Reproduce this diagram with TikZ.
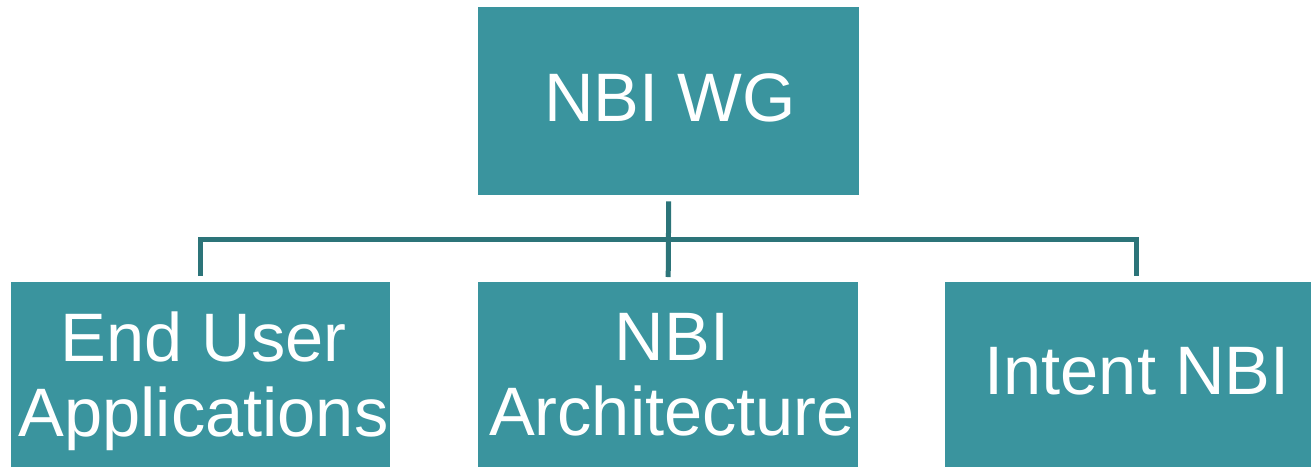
\documentclass[tikz,border=0pt]{standalone}
\usepackage{fontspec}
\setmainfont{Liberation Sans}
\definecolor{boxteal}{HTML}{3A949E}
\definecolor{lineteal}{HTML}{2C7479}
\begin{document}
\begin{tikzpicture}[x=1pt,y=-1pt,
  unit/.style={draw=none,fill=boxteal,rectangle,inner sep=0pt,anchor=north west},
  caption/.style={text=white,align=center,inner sep=0pt,
    font=\fontsize{68.6}{75}\selectfont},
  conn/.style={draw=lineteal,line width=5pt}]
\useasboundingbox (0,0) rectangle (1311,467);

% boxes
\node[unit,minimum width=381pt,minimum height=188pt] (wg)   at (478,7)   {};
\node[unit,minimum width=379pt,minimum height=185pt] (eua)  at (11,282)  {};
\node[unit,minimum width=380pt,minimum height=185pt] (arch) at (478,282) {};
\node[unit,minimum width=382pt,minimum height=185pt] (int)  at (945,282) {};

% labels
\node[caption] (twg)   at (670,97.7)  {NBI WG};
\node[caption] (teua)  at (203.5,381.5) {End User\\Applications};
\node[caption] (tarch) at (672,375)   {NBI\\Architecture};
\node[caption] (tint)  at (1137,371.2){Intent NBI};

% tree connector
\coordinate (hub) at ([yshift=-44pt]wg.south);
\draw[conn] ([yshift=-6pt]wg.south) -- ([yshift=5pt]arch.north);
\draw[conn] ([yshift=6pt]eua.north) |- (hub) -| ([yshift=6pt]int.north);
\end{tikzpicture}
\end{document}
